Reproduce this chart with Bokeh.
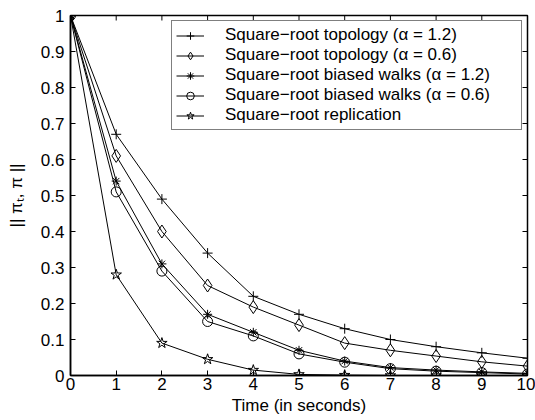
import math
from bokeh.plotting import figure
from bokeh.models import Legend, LegendItem, FixedTicker, Range1d
from bokeh.embed import file_html
from bokeh.resources import INLINE

# ---- data ----
time_s = [0, 1, 2, 3, 4, 5, 6, 7, 8, 9, 10]
topology_a12 = [1.0, 0.67, 0.49, 0.34, 0.22, 0.17, 0.13, 0.10, 0.08, 0.063, 0.048]
topology_a06 = [1.0, 0.61, 0.40, 0.25, 0.19, 0.14, 0.09, 0.07, 0.054, 0.038, 0.026]
biased_a12 = [1.0, 0.54, 0.31, 0.17, 0.12, 0.07, 0.04, 0.022, 0.015, 0.01, 0.006]
biased_a06 = [1.0, 0.51, 0.29, 0.15, 0.11, 0.06, 0.037, 0.019, 0.012, 0.008, 0.004]
replication = [1.0, 0.28, 0.09, 0.045, 0.015, 0.003, 0.001, 0.0, 0.0, 0.0, 0.0]

series_labels = [
    "Square\u2212root topology (\u03b1 = 1.2)",
    "Square\u2212root topology (\u03b1 = 0.6)",
    "Square\u2212root biased walks (\u03b1 = 1.2)",
    "Square\u2212root biased walks (\u03b1 = 0.6)",
    "Square\u2212root replication",
]
series_markers = ["cross", "diamond", "asterisk", "circle", "star"]
series_values = [topology_a12, topology_a06, biased_a12, biased_a06, replication]

x_ticks = [0, 1, 2, 3, 4, 5, 6, 7, 8, 9, 10]
y_ticks = [0.0, 0.1, 0.2, 0.3, 0.4, 0.5, 0.6, 0.7, 0.8, 0.9, 1.0]
y_tick_labels = ["0", "0.1", "0.2", "0.3", "0.4", "0.5", "0.6", "0.7", "0.8", "0.9", "1"]
x_label = "Time (in seconds)"
y_label = "|| \u03c0\u209c, \u03c0 ||"

FONT = "Liberation Sans"
FS = "17px"
MARKER_SIZE = {"cross": 10, "diamond": 13, "asterisk": 9, "circle": 10, "star": 11}

x_min, x_max = x_ticks[0], x_ticks[-1]
y_min, y_max = y_ticks[0], y_ticks[-1]

p = figure(width=535, height=420, output_backend="svg", toolbar_location=None,
           x_range=Range1d(x_min, x_max), y_range=Range1d(y_min, y_max),
           min_border_left=70, min_border_right=8, min_border_top=15, min_border_bottom=45)
p.background_fill_color = "white"
p.border_fill_color = "white"
p.xgrid.visible = False
p.ygrid.visible = False
p.outline_line_color = "black"
p.outline_line_width = 1.5

# bottom / left axes
p.xaxis.ticker = FixedTicker(ticks=x_ticks)
p.yaxis.ticker = FixedTicker(ticks=y_ticks)
p.yaxis.major_label_overrides = {t: l for t, l in zip(y_ticks, y_tick_labels)}
for ax in (p.xaxis[0], p.yaxis[0]):
    ax.major_tick_in = 5
    ax.major_tick_out = 0
    ax.minor_tick_line_color = None
    ax.axis_line_width = 1.5
    ax.axis_line_color = "black"
    ax.major_tick_line_color = "black"
    ax.major_label_text_font = FONT
    ax.major_label_text_font_size = FS
    ax.major_label_text_color = "black"
    ax.axis_label_text_font = FONT
    ax.axis_label_text_font_size = FS
    ax.axis_label_text_font_style = "normal"
    ax.axis_label_text_color = "black"
p.xaxis.axis_label = x_label
p.yaxis.axis_label = y_label
p.xaxis.major_label_standoff = 2
p.xaxis.axis_label_standoff = 3
p.yaxis.major_label_standoff = 6
p.yaxis.axis_label_standoff = 12

# inward tick marks on the top and right edges of the box
p.ray(x=x_ticks, y=[y_max] * len(x_ticks), length=5, length_units="screen",
      angle=-math.pi / 2, line_color="black", line_width=1)
p.ray(x=[x_max] * len(y_ticks), y=y_ticks, length=5, length_units="screen",
      angle=math.pi, line_color="black", line_width=1)

items = []
for lab, mk, vals in zip(series_labels, series_markers, series_values):
    lr = p.line(time_s, vals, line_color="black", line_width=1)
    sr = p.scatter(time_s, vals, marker=mk, size=MARKER_SIZE[mk], line_color="black",
                   fill_color=None, line_width=1)
    items.append(LegendItem(label=lab, renderers=[lr, sr]))

legend = Legend(items=items, location="top_right", margin=5, padding=4, spacing=0,
                glyph_width=28, glyph_height=19, label_height=19, label_width=292,
                label_standoff=21, label_text_font=FONT, label_text_font_size=FS,
                label_text_color="black", border_line_color="black", border_line_width=1,
                background_fill_color="white", background_fill_alpha=1.0)
p.add_layout(legend)

open("out.html", "w").write(file_html(p, INLINE))
